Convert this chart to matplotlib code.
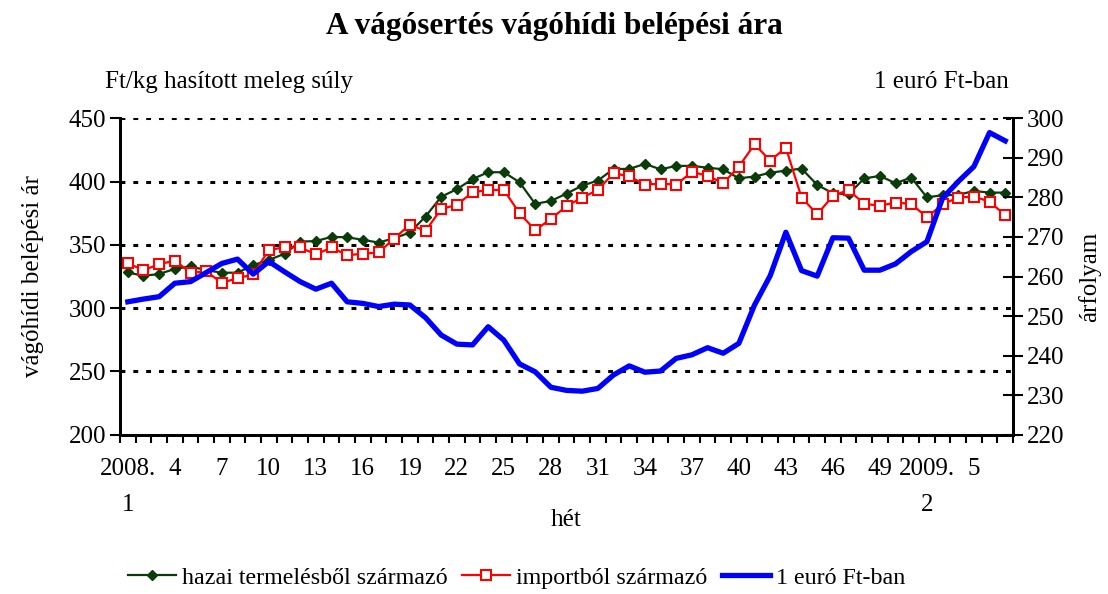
import matplotlib.pyplot as plt
import numpy as np

plt.rcParams['font.family'] = ['Liberation Serif', 'DejaVu Serif']

# week labels: 2008 weeks 1..50, 2009 weeks 1..7
weeks_2008 = list(range(1, 51))
weeks_2009 = list(range(1, 8))

# Ft/kg hasított meleg súly
hazai = [328.2, 325.5, 327, 331, 333, 330, 328, 328, 334, 338,
         343, 352.6, 353, 356.3, 356, 354, 351.8, 355.3, 359.7, 372.4,
         388, 394, 402, 407.4, 407.4, 399.5, 382.4, 384.7, 390.5, 396.8,
         400.8, 410, 410, 414, 409.7, 412.4, 412.4, 411, 409.7, 402.6,
         404, 407, 408.7, 410.3, 397.4, 390.8, 390, 402.5, 404.5, 398.7,
         403.2, 387.6, 389.2, 389.5, 392.6, 391.3, 391.3]
import_ = [335.5, 330, 334.7, 337.6, 328, 329, 320, 323.7, 326.6, 346,
           348, 348, 342.4, 348, 341.8, 343, 344, 355, 366, 361,
           378.4, 381.6, 391.6, 393.4, 393.4, 375, 361.6, 370.5, 380.6, 387.4,
           393.4, 406.6, 404.2, 397.6, 398.4, 397.6, 407.6, 404.7, 398.7, 411.8,
           429.5, 416.6, 426.8, 387.4, 374.2, 388.7, 393.4, 382.4, 381, 383.4,
           382.4, 371.8, 382.1, 387.4, 388.2, 384.2, 373.4]
# 1 euró Ft-ban
euro = [253.6, 254.3, 254.9, 258.3, 258.7, 261, 263.3, 264.4, 260.6, 263.8,
        261.2, 258.7, 256.8, 258.3, 253.6, 253.2, 252.4, 253, 252.8, 249.6,
        245.2, 242.9, 242.7, 247.3, 243.9, 237.9, 235.9, 232, 231.2, 231,
        231.7, 235.1, 237.4, 235.8, 236.1, 239.3, 240.2, 242, 240.6, 243.1,
        252.8, 260.2, 271.2, 261.5, 260.1, 269.8, 269.7, 261.6, 261.6, 263.2,
        266.3, 268.8, 279.8, 284, 287.8, 296.4, 294.3]

labels = [str(w) for w in weeks_2008] + [str(w) for w in weeks_2009]
labels[0] = "2008.\n1"
labels[len(weeks_2008)] = "2009.\n1"
labels[len(weeks_2008) + 1] = "2009.\n2"
n = len(labels)
x = np.arange(n)

FS = 18

fig = plt.figure(figsize=(11.08, 5.94), dpi=100)
ax = fig.add_axes([0.1083, 0.2682, 0.8060, 0.5326])
ax2 = ax.twinx()

ax.plot(x, hazai, color='#0b3d0b', lw=1.6, marker='D', ms=5.5,
        mfc='#0b3d0b', mec='#0b3d0b', label='hazai termelésből származó', zorder=3)
ax.plot(x, import_, color='#ff0000', lw=1.6, marker='s', ms=6.5,
        mfc='white', mec='#ff0000', mew=1.5, label='importból származó', zorder=4)
ax2.plot(x, euro, color='#0000ff', lw=3.8, label='1 euró Ft-ban')

ax.set_xlim(-0.5, n - 0.5)
ax.set_ylim(200, 450)
ax2.set_ylim(220, 300)
ax.set_yticks(range(200, 451, 50))
ax2.set_yticks(range(220, 301, 10))

for v in range(250, 451, 50):
    ax.axhline(v, color='black', lw=2.2, dashes=(1.6, 2.6), zorder=1)

# category boundaries as ticks, labels every 3rd category
ax.set_xticks(np.arange(-0.5, n, 1))
ax.set_xticklabels([])
ax.set_xticks(x[::3], minor=True)
ax.set_xticklabels(labels[::3], minor=True, fontsize=FS, linespacing=1.8)
ax.tick_params(axis='x', which='major', direction='out', length=6, width=1.5)
ax.tick_params(axis='x', which='minor', length=0, pad=17)

ax.tick_params(axis='y', direction='out', length=7, width=1.5, labelsize=FS, pad=3)
ax2.tick_params(axis='y', direction='inout', length=14, width=1.5, labelsize=FS, pad=3)

for a in (ax, ax2):
    a.spines['top'].set_visible(False)
    for s in ('left', 'right', 'bottom'):
        a.spines[s].set_linewidth(2)

ax.set_ylabel('vágóhídi belépési ár', fontsize=FS, labelpad=18)
ax2.set_ylabel('árfolyam', fontsize=FS, labelpad=10)
ax.set_xlabel('hét', fontsize=FS, labelpad=-5)

fig.text(0.5, 0.956, 'A vágósertés vágóhídi belépési ára', ha='center', va='center',
         fontsize=22.5, fontweight='bold')
fig.text(0.095, 0.862, 'Ft/kg hasított meleg súly', ha='left', va='center', fontsize=FS)
fig.text(0.91, 0.862, '1 euró Ft-ban', ha='right', va='center', fontsize=FS)

h1, l1 = ax.get_legend_handles_labels()
h2, l2 = ax2.get_legend_handles_labels()
fig.legend(h1 + h2, l1 + l2, loc='center', bbox_to_anchor=(0.466, 0.027), ncol=3,
           frameon=False, fontsize=17.3, handlelength=2.0, columnspacing=0.6,
           handletextpad=0.25, borderpad=0)

fig.savefig('out.png', dpi=100)
